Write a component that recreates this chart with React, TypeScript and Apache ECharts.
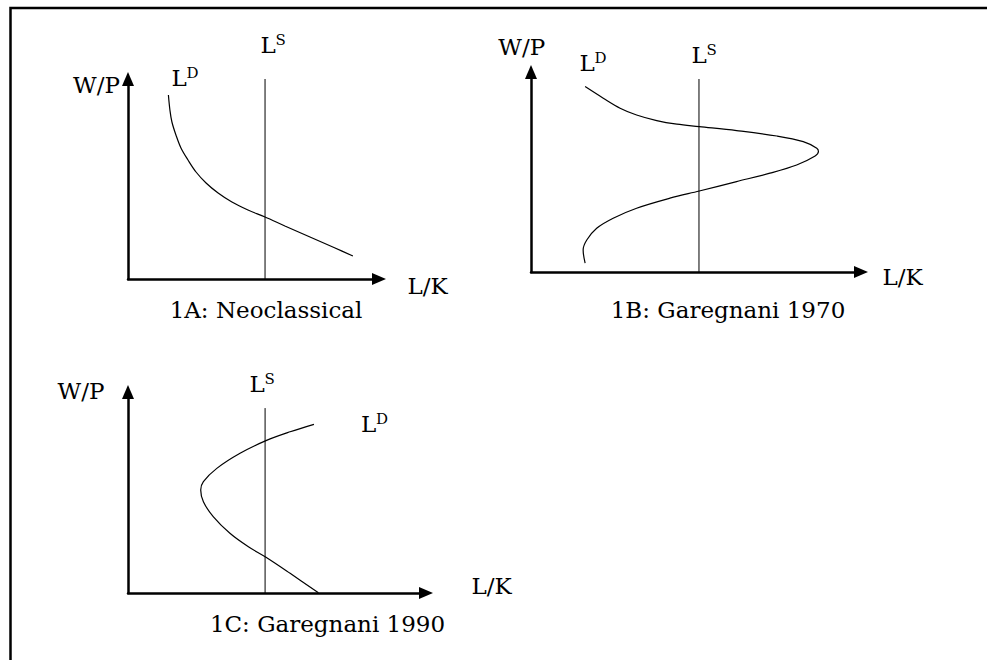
import React, { useEffect, useRef } from "react";
import * as echarts from "echarts";

// ---- data (value space 0..100 on both axes of each panel) ----
const panelTitles = ["1A: Neoclassical", "1B: Garegnani 1970", "1C: Garegnani 1990"];
const xAxisName = "L/K";
const yAxisName = "W/P";
const supplyName = "S";
const demandName = "D";

const demandA: number[][] = [
  [16.1, 92], [16.7, 84.5], [17.5, 78.5], [19.1, 72], [21.1, 65.5],
  [23.9, 59.5], [27.1, 53.5], [31.1, 48], [35.9, 43], [41.4, 38.5],
  [47.8, 34.5], [54.6, 31], [62.5, 26.5], [72.5, 21], [82.5, 15.5],
  [89.6, 11.5],
];
const demandB: number[][] = [
  [16.4, 92.7], [21.9, 86.9], [27.0, 81.9], [32.0, 78.5], [38.1, 75.7],
  [44.2, 73.9], [51.0, 72.7], [62.3, 70.7], [74.5, 68], [82.5, 65.2],
  [86.6, 61.9], [87.1, 60.2], [86.1, 58], [80.5, 53.5], [72.4, 49.4],
  [62.3, 45.2], [51.0, 40.5], [42.1, 36.9], [32.0, 31.9], [24.9, 26.9],
  [19.9, 21.9], [16.9, 16], [15.8, 11], [16.4, 4.4],
];
const demandC: number[][] = [
  [62.4, 83.9], [54.4, 80.2], [46.3, 75.8], [37.6, 69.5], [29.8, 62],
  [25.3, 55.4], [24.4, 51.2], [25.3, 45.4], [28.6, 38], [34.2, 29.7],
  [40.4, 23], [46.3, 17.8], [54.4, 9.8], [63.9, 0.1],
];
const supplyX = [54.6, 50.9, 46.0];
const supplyTop = [100, 96.5, 92];

// ---- layout ----
const grids = [
  { left: 128, top: 79, width: 251, height: 200 },
  { left: 531, top: 72, width: 330, height: 200 },
  { left: 128, top: 392, width: 298, height: 201 },
];
const demands = [demandA, demandB, demandC];

const FONT = '"DejaVu Serif", "Liberation Serif", serif';
const BIG = 23;
const SUP = 15;

type Lbl = { t: string; x: number; y: number; size: number; align: string };
const labels: Lbl[] = [
  // Panel A
  { t: yAxisName, x: 96.5, y: 85, size: BIG, align: "center" },
  { t: "L", x: 171.5, y: 78, size: BIG, align: "left" },
  { t: demandName, x: 186.5, y: 73, size: SUP, align: "left" },
  { t: "L", x: 260.5, y: 44.5, size: BIG, align: "left" },
  { t: supplyName, x: 275.5, y: 40, size: SUP, align: "left" },
  { t: xAxisName, x: 427.5, y: 286, size: BIG, align: "center" },
  { t: panelTitles[0], x: 266, y: 309.5, size: BIG, align: "center" },
  // Panel B
  { t: yAxisName, x: 521.7, y: 46.5, size: BIG, align: "center" },
  { t: "L", x: 579.5, y: 63, size: BIG, align: "left" },
  { t: demandName, x: 594.5, y: 57.5, size: SUP, align: "left" },
  { t: "L", x: 691.5, y: 54.5, size: BIG, align: "left" },
  { t: supplyName, x: 706.5, y: 49.5, size: SUP, align: "left" },
  { t: xAxisName, x: 902.5, y: 277, size: BIG, align: "center" },
  { t: panelTitles[1], x: 728, y: 309.5, size: BIG, align: "center" },
  // Panel C
  { t: yAxisName, x: 81, y: 391.3, size: BIG, align: "center" },
  { t: "L", x: 249.5, y: 383.7, size: BIG, align: "left" },
  { t: supplyName, x: 264.5, y: 379, size: SUP, align: "left" },
  { t: "L", x: 361, y: 423.7, size: BIG, align: "left" },
  { t: demandName, x: 376, y: 419, size: SUP, align: "left" },
  { t: xAxisName, x: 491.5, y: 586, size: BIG, align: "center" },
  { t: panelTitles[2], x: 327.5, y: 624, size: BIG, align: "center" },
];

function axis(i: number) {
  return {
    type: "value",
    gridIndex: i,
    min: 0,
    max: 100,
    axisLine: {
      show: true,
      onZero: false,
      symbol: ["none", "triangle"],
      symbolSize: [12, 14],
      lineStyle: { color: "#000", width: 2.5 },
    },
    axisTick: { show: false },
    axisLabel: { show: false },
    splitLine: { show: false },
  };
}

export default function App() {
  const ref = useRef<HTMLDivElement>(null);
  useEffect(() => {
    if (!ref.current) return;
    const chart = echarts.init(ref.current, undefined, { renderer: "svg" });
    const series: any[] = [];
    grids.forEach((_, i) => {
      series.push({
        type: "line",
        xAxisIndex: i,
        yAxisIndex: i,
        data: [[supplyX[i], 0], [supplyX[i], supplyTop[i]]],
        symbol: "none",
        silent: true,
        clip: false,
        lineStyle: { color: "#000", width: 1 },
      });
      series.push({
        type: "line",
        xAxisIndex: i,
        yAxisIndex: i,
        data: demands[i],
        smooth: 0.35,
        symbol: "none",
        silent: true,
        clip: false,
        lineStyle: { color: "#000", width: 1.2 },
      });
    });
    chart.setOption({
      animation: false,
      backgroundColor: "#fff",
      grid: grids.map((g) => ({ ...g, containLabel: false })),
      xAxis: grids.map((_, i) => axis(i)),
      yAxis: grids.map((_, i) => axis(i)),
      series,
      graphic: [
        {
          type: "rect",
          shape: { x: 10.5, y: 8, width: 1200, height: 900 },
          style: { fill: "none", stroke: "#000", lineWidth: 2.5 },
          silent: true,
        },
        ...labels.map((l) => ({
          type: "text",
          x: l.x,
          y: l.y,
          silent: true,
          style: {
            text: l.t,
            fill: "#000",
            fontSize: l.size,
            fontFamily: FONT,
            align: l.align,
            verticalAlign: "middle",
            textAlign: l.align,
            textVerticalAlign: "middle",
          },
        })),
      ],
    });
    return () => chart.dispose();
  }, []);
  return (
    <div
      ref={ref}
      style={{ position: "absolute", left: 0, top: 0, width: 987, height: 660 }}
    />
  );
}
